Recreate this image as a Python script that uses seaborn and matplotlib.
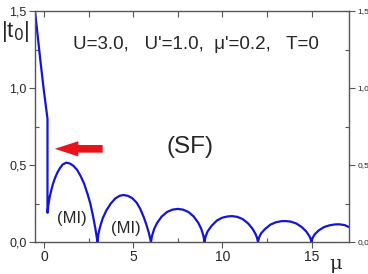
import numpy as np
import pandas as pd
import matplotlib
matplotlib.use("Agg")
import matplotlib.pyplot as plt
from matplotlib.ticker import MultipleLocator
import seaborn as sns

# |t0| vs mu (the jump at mu=0.2 is a vertical drop)
mu = [-0.5, -0.2, 0.0, 0.2, 0.2,
      0.25, 0.32, 0.4, 0.5, 0.62, 0.75, 0.9, 1.05, 1.25, 1.45, 1.65, 1.85,
      2.05, 2.25, 2.45, 2.6, 2.75, 2.88, 2.95, 3.0,
      3.05, 3.15, 3.3, 3.5, 3.75, 4.0, 4.25, 4.45, 4.7, 4.95, 5.2, 5.4,
      5.6, 5.75, 5.88, 6.0,
      6.06, 6.18, 6.35, 6.6, 6.9, 7.2, 7.5, 7.8, 8.1, 8.4, 8.65, 8.82,
      8.94, 9.0,
      9.06, 9.18, 9.4, 9.7, 10.0, 10.3, 10.55, 10.85, 11.15, 11.45, 11.7,
      11.87, 11.95, 12.0,
      12.06, 12.18, 12.4, 12.7, 13.0, 13.3, 13.55, 13.85, 14.15, 14.45,
      14.7, 14.87, 14.95, 15.0,
      15.06, 15.18, 15.4, 15.7, 16.0, 16.3, 16.55, 16.85, 17.1]
t0 = [1.50, 1.18, 0.98, 0.80, 0.19,
      0.24, 0.29, 0.33, 0.375, 0.415, 0.45, 0.48, 0.503, 0.515, 0.51, 0.495, 0.47,
      0.43, 0.38, 0.31, 0.25, 0.17, 0.09, 0.04, 0.0,
      0.05, 0.10, 0.155, 0.205, 0.25, 0.283, 0.300, 0.305, 0.300, 0.285, 0.255, 0.215,
      0.16, 0.11, 0.06, 0.0,
      0.04, 0.085, 0.125, 0.165, 0.195, 0.21, 0.215, 0.21, 0.195, 0.165, 0.125, 0.085,
      0.04, 0.0,
      0.035, 0.07, 0.105, 0.14, 0.158, 0.166, 0.168, 0.163, 0.148, 0.12, 0.085,
      0.05, 0.025, 0.0,
      0.03, 0.057, 0.085, 0.113, 0.128, 0.135, 0.136, 0.132, 0.12, 0.097,
      0.069, 0.04, 0.02, 0.0,
      0.027, 0.05, 0.075, 0.097, 0.108, 0.114, 0.115, 0.11, 0.097]

xticks = [0, 5, 10, 15]
yticks = [0.0, 0.5, 1.0, 1.5]
ytick_labels = ["0,0", "0,5", "1,0", "1,5"]

params_text = "U=3.0,   U'=1.0,  \u03bc'=0.2,   T=0"
phase_labels = ["(SF)", "(MI)", "(MI)"]

df = pd.DataFrame({"mu": mu, "t0": t0})

sns.set_style("ticks")
plt.rcParams["font.family"] = ["Liberation Sans", "DejaVu Sans"]

fig = plt.figure(figsize=(3.68, 2.74), dpi=100)
ax = fig.add_axes([35 / 368, 32 / 274, 314 / 368, 231 / 274])

sns.lineplot(data=df, x="mu", y="t0", sort=False, estimator=None,
             color="#1414d6", linewidth=1.6, ax=ax)

ax.set_xlim(-0.5, 17.1)
ax.set_ylim(0, 1.5)
ax.set_xlabel("")
ax.set_ylabel("")

for s in ax.spines.values():
    s.set_visible(True)
    s.set_color("#555555")
    s.set_linewidth(1.0)

ax.set_xticks(xticks)
ax.xaxis.set_minor_locator(MultipleLocator(2.5))
ax.set_yticks(yticks)
ax.set_yticklabels(ytick_labels)
ax.yaxis.set_minor_locator(MultipleLocator(0.25))
ax.tick_params(axis="both", which="major", direction="out", length=4,
               width=0.8, color="#555555", labelsize=9, pad=2)
ax.tick_params(axis="x", which="major", labelsize=10)
ax.tick_params(axis="both", which="minor", direction="in", length=3,
               width=0.8, color="#555555")

# top ticks pointing in, every 2.5
top = ax.secondary_xaxis("top")
top.set_xticks(np.arange(0, 17.1, 2.5))
top.tick_params(direction="in", length=4, width=0.8, color="#555555",
                labeltop=False)
top.spines["top"].set_visible(False)

# right axis with small labels
right = ax.twinx()
right.set_ylim(0, 1.5)
right.set_yticks(yticks)
right.set_yticklabels(ytick_labels)
right.yaxis.set_minor_locator(MultipleLocator(0.25))
right.tick_params(axis="y", which="major", direction="out", length=4,
                  width=0.8, color="#555555", labelsize=6, pad=2)
right.tick_params(axis="y", which="minor", direction="in", length=3,
                  width=0.8, color="#555555")
for s in right.spines.values():
    s.set_visible(False)

fig.text(15 / 368, 1 - 31 / 274, "|t$_0$|", fontsize=16, ha="center", va="center")
fig.text(336 / 368, 1 - 264 / 274, "\u03bc", fontsize=14, ha="center", va="center",
         family="DejaVu Serif")

ax.text(1.62, 1.28, params_text, fontsize=13.5, ha="left", va="center")
ax.text(8.2, 0.62, phase_labels[0], fontsize=17.5, ha="center", va="center")
ax.text(1.57, 0.15, phase_labels[1], fontsize=12, ha="center", va="center")
ax.text(4.6, 0.085, phase_labels[2], fontsize=12, ha="center", va="center")

ax.annotate("", xy=(0.45, 0.605), xytext=(3.45, 0.605),
            arrowprops=dict(arrowstyle="simple,head_length=1.7,head_width=1.1,tail_width=0.55",
                            mutation_scale=10, color="#e8141c", lw=0))

fig.savefig("out.png", dpi=100)
